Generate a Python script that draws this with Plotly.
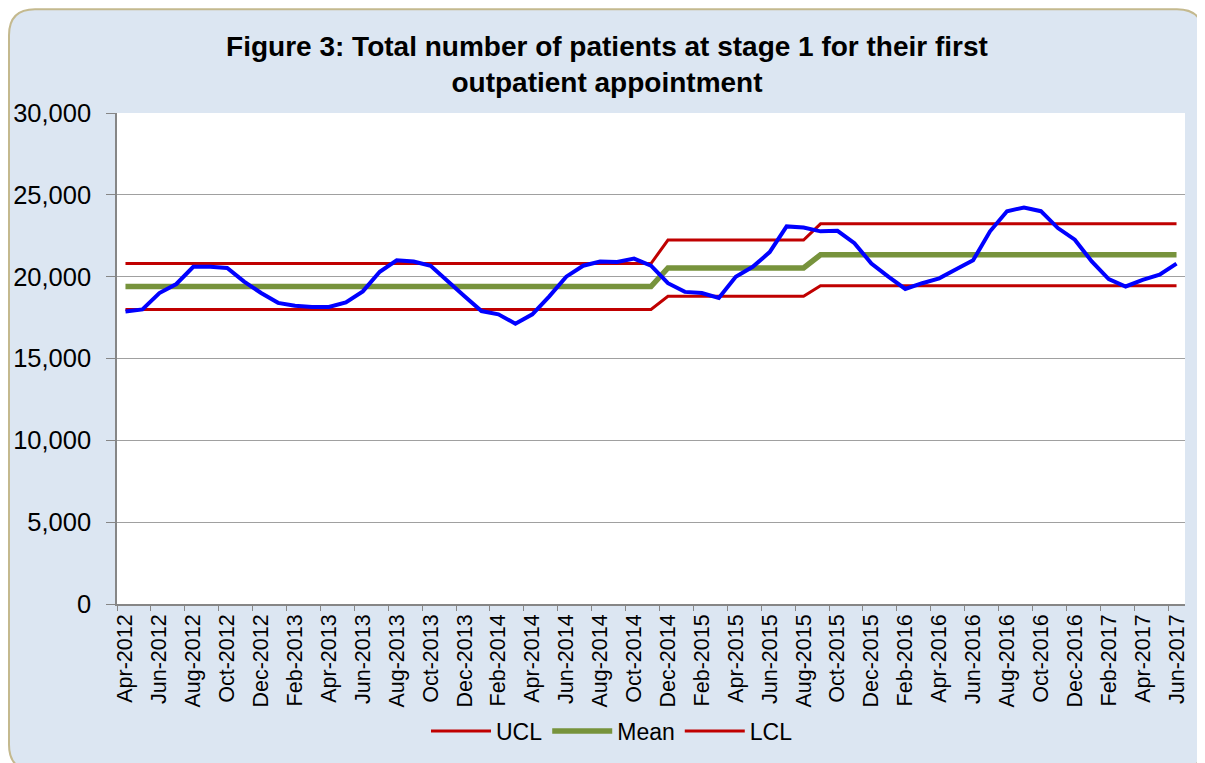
import plotly.graph_objects as go
import pandas as pd

months = list(pd.date_range("2012-04-01", periods=63, freq="MS").strftime("%b-%Y"))

patients = [17870, 18000, 19000, 19550, 20600, 20600, 20530, 19700, 19000, 18400,
            18230, 18150, 18150, 18430, 19100, 20300, 21000, 20930, 20670, 19700,
            18800, 17900, 17700, 17130, 17700, 18800, 20000, 20670, 20930, 20900,
            21100, 20670, 19600, 19070, 19000, 18700, 20000, 20600, 21500, 23070,
            23000, 22770, 22800, 22050, 20800, 20000, 19250, 19600, 19900, 20450,
            21000, 22770, 24000, 24230, 24000, 22970, 22260, 20930, 19850, 19400,
            19800, 20120, 20800]

ucl = [20800] * 32 + [22240] * 9 + [23230] * 22
mean = [19400] * 32 + [20530] * 9 + [21340] * 22
lcl = [18000] * 32 + [18800] * 9 + [19450] * 22

# the page body adds an 8px margin, so the figure is drawn 8px smaller
OFF = 8
W, H = 1205 - OFF, 763 - OFF
L, T = 117 - OFF, 113 - OFF
R = 1205 - 1185
B = H - (605 - OFF)
pw, ph = W - L - R, H - T - B

def px2paper(x, y):
    # x, y given in reference-image pixels
    return (x - OFF - L) / pw, (H - B - (y - OFF)) / ph

x0, y0, x1, y1, r = 9, 9, 1203, 772, 26
def P(x, y):
    a, b = px2paper(x, y)
    return f"{a:.5f},{b:.5f}"
path = (f"M{P(x0 + r, y0)} L{P(x1 - r, y0)} Q{P(x1, y0)} {P(x1, y0 + r)} "
        f"L{P(x1, y1 - r)} Q{P(x1, y1)} {P(x1 - r, y1)} L{P(x0 + r, y1)} "
        f"Q{P(x0, y1)} {P(x0, y1 - r)} L{P(x0, y0 + r)} Q{P(x0, y0)} {P(x0 + r, y0)} Z")

fig = go.Figure()
fig.add_trace(go.Scatter(x=months, y=ucl, name="UCL", mode="lines",
                         line=dict(color="#C00000", width=3)))
fig.add_trace(go.Scatter(x=months, y=mean, name="Mean", mode="lines",
                         line=dict(color="#77933C", width=5.5)))
fig.add_trace(go.Scatter(x=months, y=lcl, name="LCL", mode="lines",
                         line=dict(color="#C00000", width=3)))
fig.add_trace(go.Scatter(x=months, y=patients, name="Patients", mode="lines",
                         line=dict(color="#0000FF", width=4), showlegend=False))

lx, ly = px2paper(612, 731)
fig.update_layout(
    width=W, height=H,
    margin=dict(l=L, r=R, t=T, b=B),
    paper_bgcolor="white",
    plot_bgcolor="white",
    font=dict(family="Arial, Liberation Sans, sans-serif", color="black"),
    title=dict(text="<b>Figure 3: Total number of patients at stage 1 for their first<br>outpatient appointment</b>",
               x=(607 - OFF) / W, xanchor="center", xref="container",
               y=1 - (56 - OFF) / H, yanchor="middle", yref="container",
               font=dict(size=28, color="black")),
    showlegend=True,
    legend=dict(orientation="h", x=lx, xanchor="center",
                y=ly, yanchor="middle",
                font=dict(size=23), bgcolor="rgba(0,0,0,0)", traceorder="normal",
                itemwidth=60),
    shapes=[
        dict(type="path", xref="paper", yref="paper", path=path, layer="below",
             fillcolor="#DCE6F2", line=dict(color="#C4B98E", width=2)),
        dict(type="rect", xref="paper", yref="paper", x0=0, x1=1, y0=0, y1=1,
             layer="below", fillcolor="white", line=dict(width=0)),
    ],
)

fig.update_xaxes(type="category", tickmode="linear", tick0=0, dtick=2,
                 tickson="boundaries", tickangle=-90, automargin=False,
                 ticks="outside", ticklen=5, tickcolor="#868686",
                 showline=True, linecolor="#868686", linewidth=1.5,
                 showgrid=False, tickfont=dict(size=21.5),
                 range=[-0.5, 62.5])
fig.update_yaxes(range=[0, 30000], dtick=5000, tickformat=",", automargin=False,
                 ticks="outside", ticklen=9, tickcolor="#868686",
                 showline=True, linecolor="#868686", linewidth=1.5,
                 showgrid=True, gridcolor="#A0A0A0", gridwidth=1.2,
                 zeroline=False, tickfont=dict(size=25.5), ticklabelstandoff=10)

fig.write_html("out.html")
